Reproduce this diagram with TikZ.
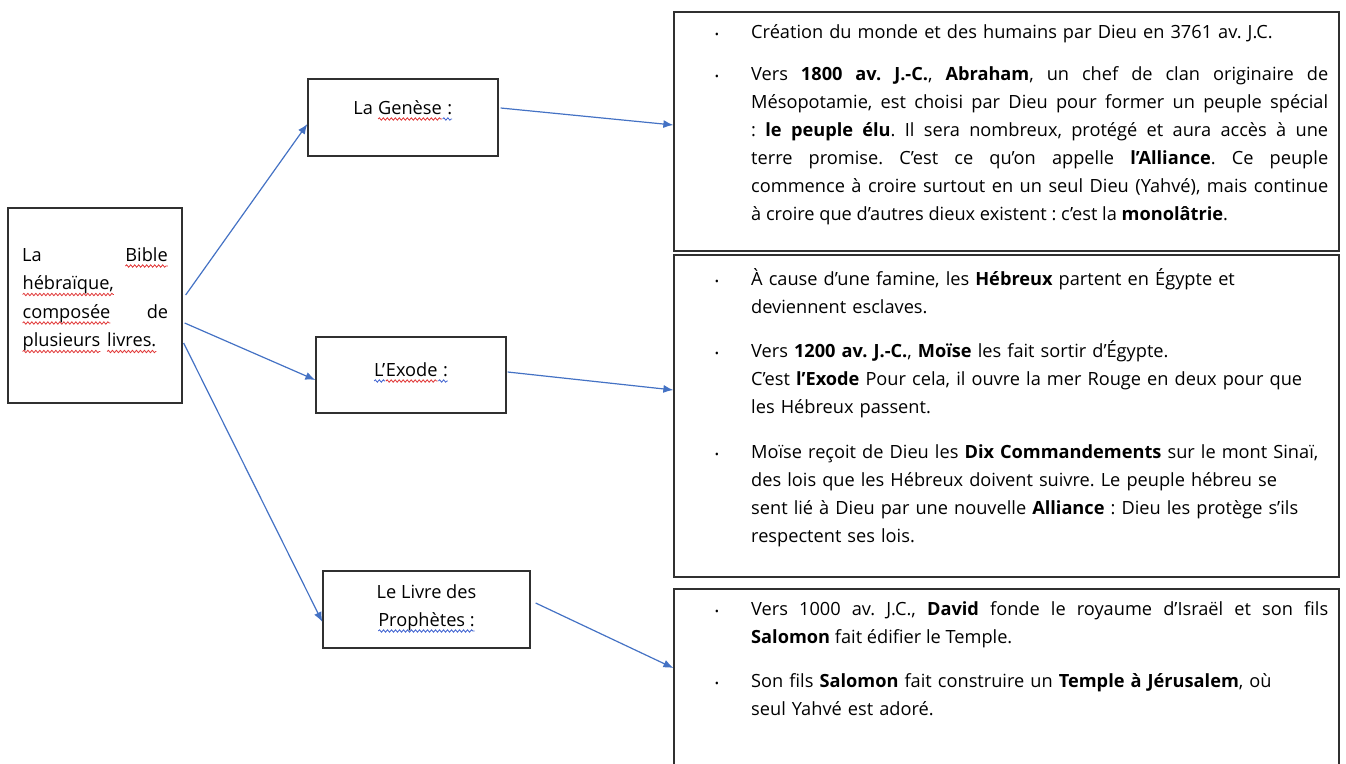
\documentclass[tikz,border=0pt]{standalone}
\usepackage{fontspec}
\setmainfont{Open Sans}
\frenchspacing
\usetikzlibrary{arrows.meta,decorations.pathmorphing}
\definecolor{arrowblue}{HTML}{4472C4}
\definecolor{wavered}{HTML}{E03535}
\definecolor{waveblue}{HTML}{3F62D0}
\definecolor{boxline}{HTML}{303030}
\newcommand\wavy[2]{\tikz[baseline=(wv.base)]{\node[inner sep=0pt,outer sep=0pt] (wv) {#2};
  \draw[draw=#1, line width=0.8pt, decorate, decoration={snake,amplitude=1.2pt,segment length=4pt}]
   ([yshift=-5pt]wv.base west) -- ([yshift=-5pt]wv.base east);}}
\newcommand\rwave[1]{\wavy{wavered}{#1}}
\newcommand\bwave[1]{\wavy{waveblue}{#1}}
\tikzset{
  box/.style={draw=boxline, line width=1.3pt, inner sep=0pt, fill=none},
  txt/.style={inner sep=0pt, font=\fontsize{18.2}{28}\selectfont\frenchspacing, anchor=base west},
  ctxt/.style={txt, anchor=base},
  para/.style={txt, text width=577pt, align=justify},
  rpara/.style={txt, text width=580pt, align=left},
  bul/.style={inner sep=0pt, font=\fontsize{11}{11}\selectfont, anchor=base},
  conn/.style={draw=arrowblue, line width=1.2pt, -{Latex[length=10pt,width=8pt]}}
}
\begin{document}
\begin{tikzpicture}[x=1pt,y=-1pt]
\useasboundingbox (0,0) rectangle (1346,763);
% left boxes
\node[box, minimum width=174pt, minimum height=195pt] (bible) at (95,305.5) {};
\node[txt, text width=146pt, align=left, font=\fontsize{18.2}{28.5}\selectfont] (bibletxt) at (22,261)
  {La\hfill \rwave{Bible}\\\rwave{hébraïque,}\\\rwave{composée}\hfill de\\\rwave{plusieurs} \rwave{livres.}};
\node[box, minimum width=190pt, minimum height=77pt] (genese) at (403,117.5) {};
\node[ctxt] (genesetxt) at (403,114) {La \rwave{Genèse}\bwave{\ :}};
\node[box, minimum width=190pt, minimum height=76pt] (exode) at (411,375) {};
\node[ctxt] (exodetxt) at (411,376) {\bwave{L’}\rwave{Exode}\bwave{\ :}};
\node[box, minimum width=207pt, minimum height=77pt] (proph) at (426.5,609.5) {};
\node[ctxt] (prophtxt1) at (426.5,598) {Le Livre des};
\node[ctxt] (prophtxt2) at (426.5,626) {\bwave{Prophètes\ :}};
% right boxes
\node[box, minimum width=665pt, minimum height=239pt] (box1) at (1006.5,131.5) {};
\node[box, minimum width=665pt, minimum height=322pt] (box2) at (1006.5,416) {};
\node[box, minimum width=665pt, minimum height=201pt] (box3) at (1006.5,689.5) {};
% box 1 text
\node[bul] (d11) at (717,38) {•};
\node[rpara] (p11) at (751,38) {Création du monde et des humains par Dieu en 3761 av. J.C.};
\node[bul] (d12) at (717,80) {•};
\node[para] (p12) at (751,80) {Vers \textbf{1800 av. J.-C.}, \textbf{Abraham}, un chef de clan originaire de\linebreak
Mésopotamie, est choisi par Dieu pour former un peuple spécial\linebreak
: \textbf{le peuple élu}. Il sera nombreux, protégé et aura accès à une\linebreak
terre promise. C’est ce qu’on appelle \textbf{l’Alliance}. Ce peuple\linebreak
commence à croire surtout en un seul Dieu (Yahvé), mais continue\linebreak
à croire que d'autres dieux existent : c’est la \textbf{monolâtrie}.};
% box 2 text
\node[bul] (d21) at (717,285) {•};
\node[rpara] (p21) at (751,285) {À cause d’une famine, les \textbf{Hébreux} partent en Égypte et\\
deviennent esclaves.};
\node[bul] (d22) at (717,357) {•};
\node[rpara] (p22) at (751,357) {Vers \textbf{1200 av. J.-C.}, \textbf{Moïse} les fait sortir d’Égypte.\\
C’est \textbf{l’Exode} Pour cela, il ouvre la mer Rouge en deux pour que\\
les Hébreux passent.};
\node[bul] (d23) at (717,458) {•};
\node[rpara] (p23) at (751,458) {Moïse reçoit de Dieu les \textbf{Dix Commandements} sur le mont Sinaï,\\
des lois que les Hébreux doivent suivre. Le peuple hébreu se\\
sent lié à Dieu par une nouvelle \textbf{Alliance} : Dieu les protège s’ils\\
respectent ses lois.};
% box 3 text
\node[bul] (d31) at (717,615) {•};
\node[para] (p31) at (751,615) {Vers 1000 av. J.C., \textbf{David} fonde le royaume d'Israël et son fils\linebreak
\textbf{Salomon} fait édifier le Temple.};
\node[bul] (d32) at (717,687) {•};
\node[rpara] (p32) at (751,687) {Son fils \textbf{Salomon} fait construire un \textbf{Temple à Jérusalem}, où\\
seul Yahvé est adoré.};
% connectors
\draw[conn] ([xshift=3pt,yshift=10.5pt]bible.east) -- ([yshift=-6.5pt]genese.west);
\draw[conn] ([xshift=2pt,yshift=-17.5pt]bible.east) -- ([yshift=-5pt]exode.west);
\draw[conn] ([xshift=1pt,yshift=-37.5pt]bible.east) -- ([yshift=-12.5pt]proph.west);
\draw[conn] ([xshift=2pt,yshift=9.5pt]genese.east) -- ([yshift=6.5pt]box1.west);
\draw[conn] ([xshift=1pt,yshift=3pt]exode.east) -- ([yshift=26pt]box2.west);
\draw[conn] ([xshift=5pt,yshift=6.5pt]proph.east) -- ([yshift=21.5pt]box3.west);
\end{tikzpicture}
\end{document}
